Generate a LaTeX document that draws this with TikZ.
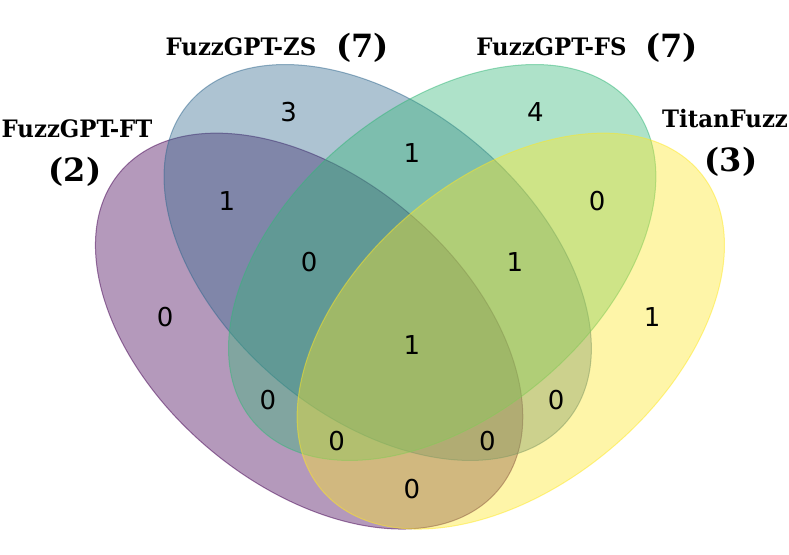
\documentclass[tikz,border=0pt]{standalone}
\usepackage{fontspec}
\setmainfont{DejaVu Sans}
\newfontfamily\labfont{DejaVu Serif}
\newfontfamily\labnamefont[FakeStretch=0.95]{DejaVu Serif}
\definecolor{vpurple}{HTML}{440154}
\definecolor{vblue}{HTML}{31688E}
\definecolor{vgreen}{HTML}{35B779}
\definecolor{vyellow}{HTML}{FDE725}
\begin{document}
\begin{tikzpicture}[x=686pt,y=686pt,
  setshape/.style={fill=#1, draw=#1, fill opacity=0.4, draw opacity=0.5, line width=1pt},
  num/.style={font=\fontsize{26}{26}\selectfont, inner sep=0pt},
  setname/.style={font=\labnamefont\bfseries\fontsize{24}{24}\selectfont, inner sep=0pt, anchor=base},
  setcount/.style={font=\labfont\bfseries\fontsize{32}{32}\selectfont, inner sep=0pt}]
\useasboundingbox (-0.10058,0.07362) rectangle (1.04956,0.88265);
% sets
\path[setshape=vpurple, rotate around={140:(0.350,0.400)}] (0.350,0.400) ellipse (0.36 and 0.225);
\path[setshape=vblue,   rotate around={140:(0.450,0.500)}] (0.450,0.500) ellipse (0.36 and 0.225);
\path[setshape=vgreen,  rotate around={40:(0.544,0.500)}]  (0.544,0.500) ellipse (0.36 and 0.225);
\path[setshape=vyellow, rotate around={40:(0.644,0.400)}]  (0.644,0.400) ellipse (0.36 and 0.225);
% region counts
\node[num] (r0001) at (0.85,0.42) {1};
\node[num] (r0010) at (0.68,0.72) {4};
\node[num] (r0011) at (0.77,0.59) {0};
\node[num] (r0100) at (0.32,0.72) {3};
\node[num] (r0101) at (0.71,0.30) {0};
\node[num] (r0110) at (0.50,0.66) {1};
\node[num] (r0111) at (0.65,0.50) {1};
\node[num] (r1000) at (0.14,0.42) {0};
\node[num] (r1001) at (0.50,0.17) {0};
\node[num] (r1010) at (0.29,0.30) {0};
\node[num] (r1011) at (0.39,0.24) {0};
\node[num] (r1100) at (0.23,0.59) {1};
\node[num] (r1101) at (0.61,0.24) {0};
\node[num] (r1110) at (0.35,0.50) {0};
\node[num] (r1111) at (0.50,0.38) {1};
% set names
\node[setname] (nzs) at (0.2507,0.8010) {FuzzGPT-ZS};
\node[setcount] (czs) at (0.4278,0.8134) {(7)};
\node[setname] (nfs) at (0.7034,0.8010) {FuzzGPT-FS};
\node[setcount] (cfs) at (0.8783,0.8134) {(7)};
\node[setname] (nft) at (0.0117,0.6815) {FuzzGPT-FT};
\node[setcount] (cft) at (0.00875,0.6327) {(2)};
\node[setname] (ntf) at (0.9563,0.6961) {TitanFuzz};
\node[setcount] (ctf) at (0.9650,0.6472) {(3)};
\end{tikzpicture}
\end{document}
